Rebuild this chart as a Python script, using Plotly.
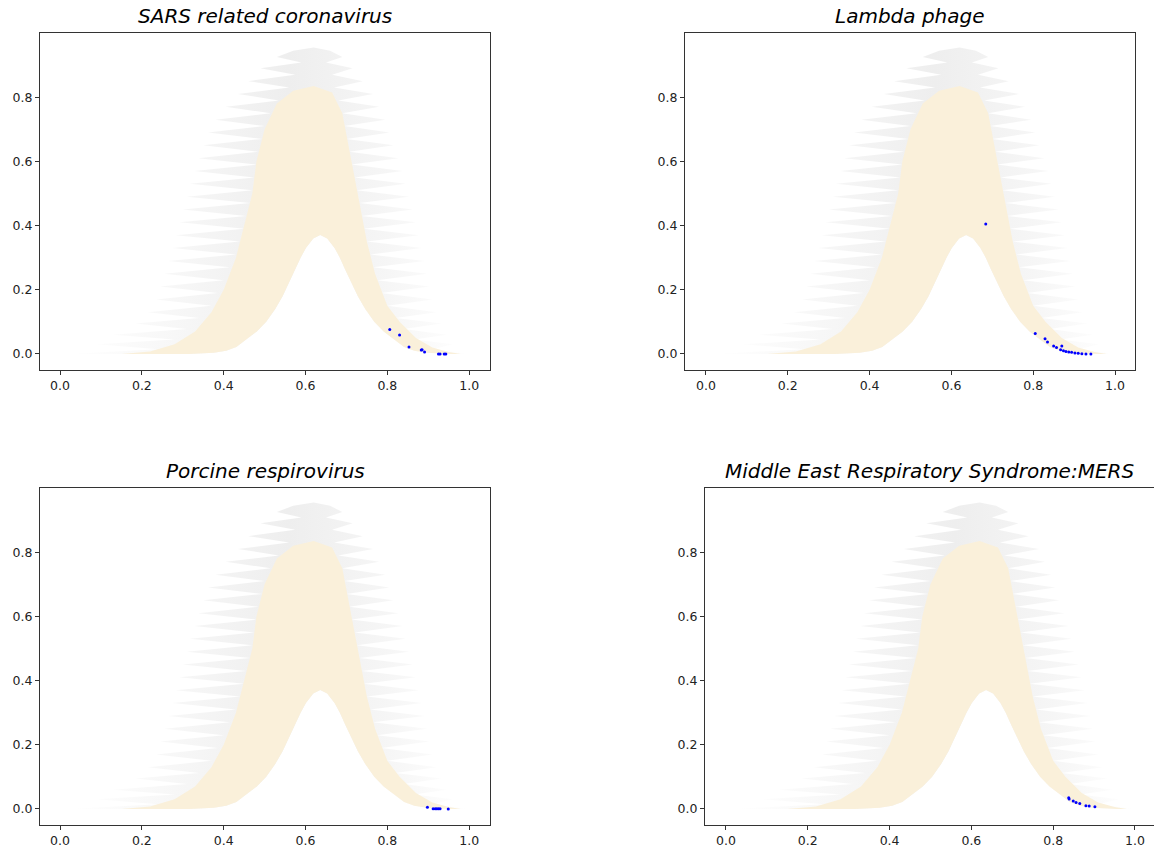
import plotly.graph_objects as go

# ---------------- data ----------------
panel_titles = ["SARS related coronavirus", "Lambda phage",
                "Porcine respirovirus", "Middle East Respiratory Syndrome:MERS"]

x_ticks = [0.0, 0.2, 0.4, 0.6, 0.8, 1.0]
x_tick_labels = ["0.0", "0.2", "0.4", "0.6", "0.8", "1.0"]
y_ticks = [0.0, 0.2, 0.4, 0.6, 0.8]
y_tick_labels = ["0.0", "0.2", "0.4", "0.6", "0.8"]

# background region (same in every panel): beige core, outer boundary (left -> over top -> right)
beige_outer_x = [0.15, 0.22, 0.28, 0.33, 0.37, 0.40, 0.43, 0.45, 0.47, 0.48, 0.50, 0.53, 0.57,
                 0.62, 0.665, 0.69, 0.705, 0.72, 0.735, 0.75, 0.77, 0.80, 0.83, 0.87, 0.91,
                 0.95, 0.98]
beige_outer_y = [0.0, 0.008, 0.03, 0.07, 0.13, 0.20, 0.30, 0.40, 0.50, 0.60, 0.70, 0.78, 0.82,
                 0.835, 0.815, 0.75, 0.65, 0.55, 0.45, 0.35, 0.25, 0.15, 0.10, 0.05, 0.02,
                 0.006, 0.0]

# inner empty bell (left -> right)
bell_x = [0.316, 0.376, 0.406, 0.431, 0.456, 0.481, 0.504, 0.526, 0.544, 0.56, 0.574, 0.588,
          0.601, 0.619, 0.636, 0.653, 0.671, 0.684, 0.698, 0.712, 0.728, 0.746, 0.768, 0.791,
          0.816, 0.841, 0.866, 0.896, 0.956]
bell_y = [0.0, 0.004, 0.01, 0.022, 0.045, 0.07, 0.10, 0.14, 0.18, 0.22, 0.26, 0.30, 0.33, 0.36,
          0.371, 0.36, 0.33, 0.30, 0.26, 0.22, 0.18, 0.14, 0.10, 0.07, 0.045, 0.022, 0.01,
          0.004, 0.0]

# grey feathered envelope (left side up, top, right side down)
grey_env_x = [0.02, 0.24, 0.09, 0.28, 0.13, 0.31, 0.185, 0.34, 0.215, 0.37, 0.235, 0.385, 0.245,
              0.40, 0.255, 0.415, 0.265, 0.43, 0.275, 0.44, 0.283, 0.45, 0.292, 0.455, 0.30,
              0.465, 0.31, 0.47, 0.318, 0.475, 0.328, 0.48, 0.338, 0.485, 0.35, 0.495, 0.362,
              0.50, 0.38, 0.515, 0.405, 0.535, 0.435, 0.56, 0.46, 0.575, 0.49, 0.59, 0.53,
              0.57, 0.62, 0.66,
              0.69, 0.65, 0.715, 0.665, 0.74, 0.67, 0.765, 0.68, 0.78, 0.69, 0.795, 0.695,
              0.805, 0.70, 0.815, 0.707, 0.827, 0.712, 0.837, 0.72, 0.845, 0.725, 0.853, 0.732,
              0.862, 0.737, 0.87, 0.742, 0.877, 0.75, 0.884, 0.758, 0.891, 0.765, 0.897, 0.775,
              0.903, 0.785, 0.91, 0.80, 0.92, 0.82, 0.932, 0.84, 0.945, 0.865, 0.96, 0.91, 1.0]
grey_env_y = [0.0, 0.015, 0.03, 0.045, 0.06, 0.078, 0.095, 0.112, 0.13, 0.15, 0.17, 0.19, 0.21,
              0.23, 0.25, 0.27, 0.29, 0.31, 0.33, 0.35, 0.37, 0.39, 0.41, 0.43, 0.45,
              0.47, 0.49, 0.51, 0.53, 0.55, 0.57, 0.59, 0.61, 0.63, 0.65, 0.67, 0.69,
              0.71, 0.73, 0.75, 0.77, 0.79, 0.81, 0.83, 0.85, 0.87, 0.89, 0.908, 0.925,
              0.945, 0.955, 0.945,
              0.925, 0.908, 0.89, 0.87, 0.85, 0.83, 0.81, 0.79, 0.77, 0.75, 0.73, 0.71,
              0.69, 0.67, 0.65, 0.63, 0.61, 0.59, 0.57, 0.55, 0.53, 0.51, 0.49, 0.47,
              0.45, 0.43, 0.41, 0.39, 0.37, 0.35, 0.33, 0.31, 0.29, 0.27, 0.25, 0.23,
              0.21, 0.19, 0.17, 0.15, 0.13, 0.112, 0.095, 0.078, 0.06, 0.045, 0.03, 0.015, 0.0]

# genome points (blue)
sars_x = [0.806, 0.830, 0.853, 0.883, 0.885, 0.891, 0.925, 0.929, 0.939, 0.943]
sars_y = [0.076, 0.059, 0.022, 0.0125, 0.013, 0.006, 0.0, 0.0, 0.0, 0.0]

lambda_x = [0.684, 0.805, 0.829, 0.835, 0.850, 0.857, 0.870, 0.867, 0.874, 0.880, 0.887,
            0.894, 0.902, 0.910, 0.919, 0.929, 0.941]
lambda_y = [0.405, 0.064, 0.047, 0.037, 0.025, 0.020, 0.025, 0.013, 0.010, 0.008, 0.006,
            0.005, 0.003, 0.002, 0.001, 0.0, 0.0]

porcine_x = [0.898, 0.912, 0.917, 0.921, 0.925, 0.929, 0.949]
porcine_y = [0.005, 0.001, 0.001, 0.001, 0.0005, 0.0005, 0.0]

mers_x = [0.838, 0.839, 0.849, 0.856, 0.865, 0.880, 0.888, 0.902]
mers_y = [0.035, 0.031, 0.025, 0.020, 0.017, 0.010, 0.009, 0.007]

genome_x = [sars_x, lambda_x, porcine_x, mers_x]
genome_y = [sars_y, lambda_y, porcine_y, mers_y]

# ---------------- layout geometry ----------------
W, H = 1154, 849
# pixel boxes: (left, right, top, bottom)
boxes = [(40, 490, 33, 370), (685, 1135, 33, 370), (40, 490, 488, 825), (705, 1154, 488, 825)]
x_ranges = [[-0.049, 1.051], [-0.0513, 1.0489], [-0.049, 1.051], [-0.0513, 1.0465]]
y_range = [-0.05, 1.0]

GREY_SCALE = [[0.0, "#FFFFFF"], [0.3, "#F6F6F6"], [0.55, "#EEEEEE"], [0.8, "#F6F6F6"],
              [1.0, "#FFFFFF"]]
BEIGE = "#FAF0DA"

fig = go.Figure()
layout = dict(width=W, height=H, margin=dict(l=0, r=0, t=0, b=0),
              paper_bgcolor="white", plot_bgcolor="white", showlegend=False,
              annotations=[])

for i in range(4):
    xa = "x" if i == 0 else f"x{i+1}"
    ya = "y" if i == 0 else f"y{i+1}"
    gx = grey_env_x + bell_x[::-1]
    gy = grey_env_y + bell_y[::-1]
    fig.add_trace(go.Scatter(x=gx, y=gy, mode="lines", fill="toself",
                             fillgradient=dict(type="horizontal", colorscale=GREY_SCALE),
                             line=dict(width=0, color="#F3F3F3"), hoverinfo="skip",
                             xaxis=xa, yaxis=ya))
    bx = beige_outer_x + bell_x[::-1]
    by = beige_outer_y + bell_y[::-1]
    fig.add_trace(go.Scatter(x=bx, y=by, mode="lines", fill="toself", fillcolor=BEIGE,
                             line=dict(width=0, color=BEIGE), hoverinfo="skip",
                             xaxis=xa, yaxis=ya))
    fig.add_trace(go.Scatter(x=genome_x[i], y=genome_y[i], mode="markers",
                             marker=dict(color="#0000FF", size=3, line=dict(width=0)),
                             xaxis=xa, yaxis=ya, name=panel_titles[i]))

    l, r, t, b = boxes[i]
    xdom = [l / W, min(r / W, 1.0)]
    ydom = [1 - b / H, 1 - t / H]
    axis_common = dict(showgrid=False, zeroline=False, showline=True, linecolor="#333",
                       linewidth=1, mirror=True, ticks="outside", ticklen=4, tickwidth=1,
                       tickcolor="#333",
                       tickfont=dict(family="DejaVu Sans", size=12.5, color="#222"))
    layout["xaxis" if i == 0 else f"xaxis{i+1}"] = dict(
        domain=xdom, range=x_ranges[i], anchor=ya, tickvals=x_ticks,
        ticktext=x_tick_labels, **axis_common)
    layout["yaxis" if i == 0 else f"yaxis{i+1}"] = dict(
        domain=ydom, range=y_range, anchor=xa, tickvals=y_ticks,
        ticktext=y_tick_labels, **axis_common)
    layout["annotations"].append(dict(
        text=panel_titles[i], xref="paper", yref="paper",
        x=(xdom[0] + xdom[1]) / 2, y=ydom[1], xanchor="center", yanchor="bottom",
        yshift=3, showarrow=False,
        font=dict(family="DejaVu Sans", size=20, color="black", style="italic")))

fig.update_layout(**layout)
fig.write_html("out.html")
